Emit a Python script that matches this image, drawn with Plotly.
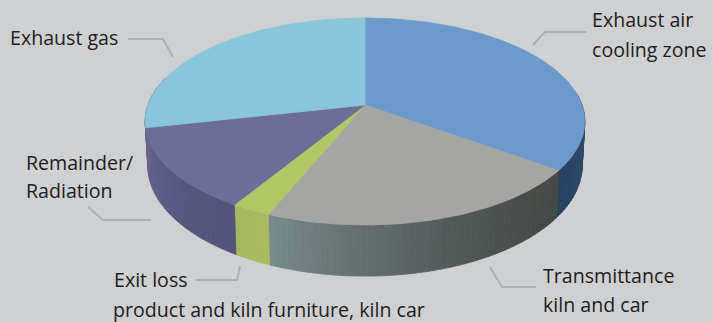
import math
import plotly.graph_objects as go

# Heat balance shares, clockwise from twelve o'clock
slice_names = ["Exhaust air cooling zone", "Transmittance kiln and car", "Exit loss",
               "Remainder/Radiation", "Exhaust gas"]
slice_shares = [35.0, 21.2, 2.5, 12.8, 28.5]

top_colors = ["#6b9acb", "#a5a5a3", "#b2c866", "#6d6e98", "#89c6da"]
# Rim shading: (start colour, end colour) running clockwise through each slice
rim_colors = [("#3c5f8f", "#27405f"), ("#454946", "#7a8c8e"), ("#a9bb60", "#a3b65e"),
              ("#53547a", "#64658e"), ("#64658e", "#64658e")]

BACKGROUND = "#ced0d2"
TEXT = "#1e1e1e"
LEADER = "#a9b1b5"

# Perspective disc: centre, radius, foreshortening and rim height, in page pixels
CX, CY, RADIUS, PERSP, SLOPE, RIM = 365.0, 105.0, 217.0, 0.1594, -84.1, 43.0


def project(angle_deg, lowered=False):
    a = math.radians(angle_deg)
    u, v = math.sin(a), math.cos(a)
    w = 1 + PERSP * v
    x = CX + RADIUS * u / w * (0.988 if lowered else 1.0)
    y = (SLOPE * v + CY) / w
    if lowered:
        y += RIM / w
    return x, y


def mix(c1, c2, t):
    p = [int(c1[i:i + 2], 16) for i in (1, 3, 5)]
    q = [int(c2[i:i + 2], 16) for i in (1, 3, 5)]
    return "rgb({},{},{})".format(*[round(a + (b - a) * t) for a, b in zip(p, q)])


def poly(xs, ys, color):
    return go.Scatter(x=xs, y=ys, mode="lines", fill="toself", fillcolor=color,
                      line=dict(color=color, width=0.8), hoverinfo="skip", showlegend=False)


fig = go.Figure()

total = sum(slice_shares)
edges = [0.0]
for share in slice_shares:
    edges.append(edges[-1] + share / total * 360)

# Rim strips for the near half of the disc
for i in range(len(slice_shares)):
    start, end = edges[i], edges[i + 1]
    steps = max(2, int((end - start) / 1.5))
    for k in range(steps):
        a0 = start + (end - start) * k / steps
        a1 = start + (end - start) * (k + 1) / steps
        if a1 < 85 or a0 > 285:
            continue
        p0, p1 = project(a0), project(a1)
        q0, q1 = project(a0, lowered=True), project(a1, lowered=True)
        fig.add_trace(poly([p0[0], p1[0], q1[0], q0[0], p0[0]],
                           [p0[1], p1[1], q1[1], q0[1], p0[1]],
                           mix(*rim_colors[i], (k / steps) ** 1.6)))

# Top faces
for i in range(len(slice_shares)):
    start, end = edges[i], edges[i + 1]
    steps = max(4, int(end - start))
    pts = [project(start + (end - start) * k / steps) for k in range(steps + 1)]
    xs = [CX] + [p[0] for p in pts] + [CX]
    ys = [CY] + [p[1] for p in pts] + [CY]
    fig.add_trace(poly(xs, ys, top_colors[i]))

# Leader lines
leaders = [
    ([128, 163, 173], [39, 39, 57]),
    ([586, 545, 533], [32, 32, 45]),
    ([88, 103, 151], [207, 220, 220]),
    ([196, 237, 240], [280, 280, 266]),
    ([490, 502, 536], [267, 287, 287]),
]
for lx, ly in leaders:
    fig.add_trace(go.Scatter(x=lx, y=ly, mode="lines", line=dict(color=LEADER, width=2),
                             hoverinfo="skip", showlegend=False))

# Labels
labels = [
    ("Exhaust gas", 10, 37),
    ("Exhaust air", 592, 19),
    ("cooling zone", 592, 49),
    ("Remainder/", 26, 162),
    ("Radiation", 26, 190),
    ("Exit loss", 114, 279),
    ("product and kiln furniture, kiln car", 113, 309),
    ("Transmittance", 543, 275),
    ("kiln and car", 543, 304),
]
annotations = [dict(x=x, y=y, text=t, xref="x", yref="y", xanchor="left", yanchor="middle",
                    showarrow=False, xshift=-2, font=dict(family="Open Sans", size=19.6, color=TEXT))
               for t, x, y in labels]

fig.update_layout(
    width=713, height=322, margin=dict(l=0, r=0, t=0, b=0),
    paper_bgcolor=BACKGROUND, plot_bgcolor=BACKGROUND, showlegend=False,
    xaxis=dict(range=[0, 713], visible=False, fixedrange=True),
    yaxis=dict(range=[322, 0], visible=False, fixedrange=True),
    annotations=annotations,
)
fig.write_html("out.html", config=dict(displayModeBar=False))
